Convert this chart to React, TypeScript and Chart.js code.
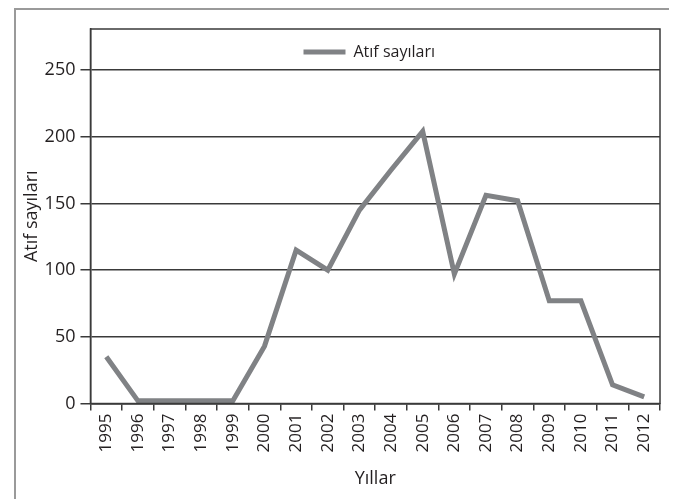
import React, { useEffect, useRef } from "react";
import { Chart, registerables } from "chart.js";

Chart.register(...registerables);

const years = ["1995","1996","1997","1998","1999","2000","2001","2002","2003","2004","2005","2006","2007","2008","2009","2010","2011","2012"];
const citations = [35, 2, 2, 2, 2, 43, 115, 100, 145, 175, 204, 97, 156, 152, 77, 77, 14, 5];
const seriesLabel = "Atıf sayıları";
const xTitle = "Yıllar";
const yTitle = "Atıf sayıları";

const FONT = "'Open Sans', 'Noto Sans', sans-serif";
const TEXT = "#231f20";
const GRID = "#3a3a3a";
const LEGEND_BAND = 41;

const boxPlugin = {
  id: "boxPlugin",
  afterLayout(chart: any) {
    const lg = chart.legend;
    const ca = chart.chartArea;
    if (lg && ca) {
      lg.left = ca.left - 6;
      lg.right = ca.right - 6;
      lg.width = ca.right - ca.left;
    }
    const ys = chart.scales.y;
    if (ys && ca) {
      ys.top = ca.top - LEGEND_BAND;
    }
  },
  beforeDraw(chart: any) {
    const { ctx, width, height } = chart;
    ctx.save();
    ctx.fillStyle = "#ffffff";
    ctx.fillRect(0, 0, width, height);
    ctx.strokeStyle = "#9a9a9a";
    ctx.lineWidth = 2;
    ctx.strokeRect(7, 1, 656, height + 10);
    ctx.restore();
  },
  afterDraw(chart: any) {
    const { ctx, chartArea } = chart;
    ctx.save();
    ctx.strokeStyle = GRID;
    ctx.lineWidth = 1.5;
    const top = chartArea.top - LEGEND_BAND;
    ctx.strokeRect(chartArea.left, top, chartArea.right - chartArea.left, chartArea.bottom - top);
    ctx.restore();
  },
};

export default function App() {
  const ref = useRef<HTMLCanvasElement | null>(null);
  useEffect(() => {
    if (!ref.current) return;
    const chart = new Chart(ref.current, {
      type: "line",
      data: {
        labels: years,
        datasets: [
          {
            label: seriesLabel,
            data: citations,
            borderColor: "#808285",
            backgroundColor: "#808285",
            borderWidth: 5,
            pointRadius: 0,
            tension: 0,
            pointStyle: "line",
          },
        ],
      },
      options: {
        responsive: false,
        animation: false,
        layout: { padding: { top: 26, left: 2, right: 9, bottom: 6 } },
        plugins: {
          tooltip: { enabled: false },
          legend: {
            position: "top",
            labels: {
              usePointStyle: true,
              pointStyle: "line",
              pointStyleWidth: 42,
              boxHeight: 17,
              padding: 10,
              color: TEXT,
              font: { family: FONT, size: 16 },
            },
          },
        },
        scales: {
          x: {
            offset: true,
            grid: {
              offset: true,
              drawOnChartArea: false,
              drawTicks: true,
              tickLength: 7,
              color: GRID,
              lineWidth: 1.5,
            },
            border: { display: true, color: GRID, width: 1.5 },
            ticks: {
              minRotation: 90,
              maxRotation: 90,
              padding: 3,
              color: TEXT,
              font: { family: FONT, size: 17 },
            },
            title: {
              display: true,
              text: xTitle,
              color: TEXT,
              font: { family: FONT, size: 18 },
              padding: { top: 13, bottom: 3 },
            },
          },
          y: {
            min: 0,
            max: 250,
            grid: {
              color: GRID,
              lineWidth: 1.5,
              tickLength: 10,
            },
            border: { display: true, color: GRID, width: 1.5 },
            ticks: {
              stepSize: 50,
              padding: 5,
              color: TEXT,
              font: { family: FONT, size: 18 },
            },
            title: {
              display: true,
              text: yTitle,
              color: TEXT,
              font: { family: FONT, size: 18 },
              padding: { top: 11, bottom: -3 },
            },
          },
        },
      },
      plugins: [boxPlugin],
    } as any);
    return () => chart.destroy();
  }, []);
  return (
    <div>
      <canvas ref={ref} width={661} height={491} style={{ display: "block" }} />
    </div>
  );
}
